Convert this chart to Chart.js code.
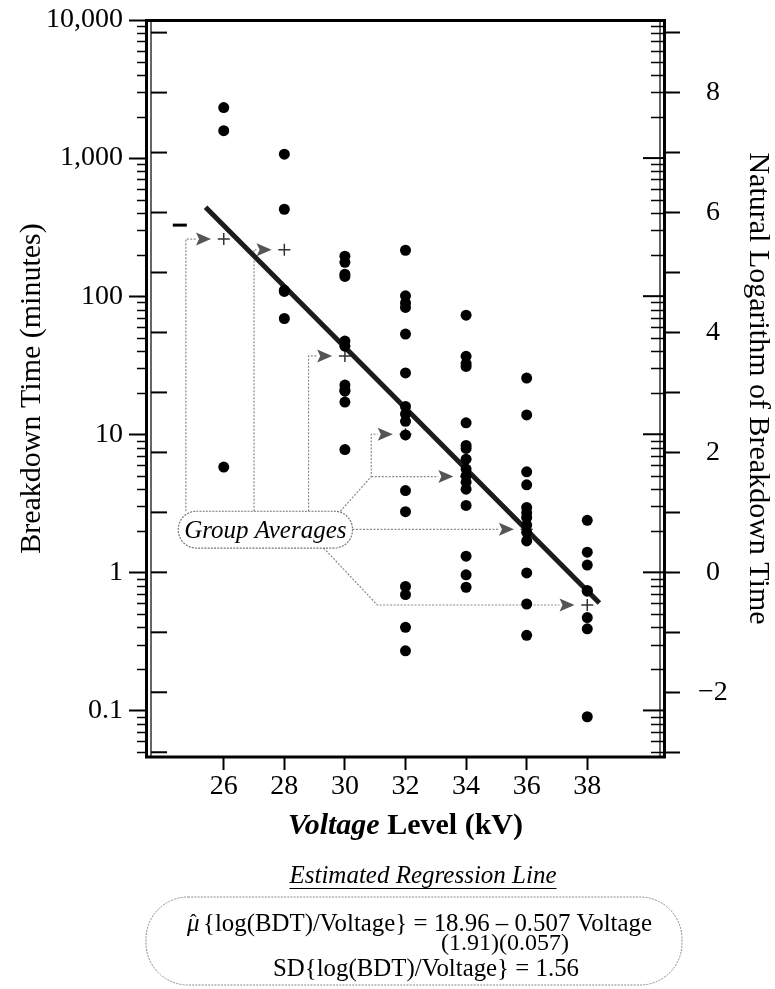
<!DOCTYPE html>
<html>
<head>
<meta charset="utf-8">
<script src="https://cdn.jsdelivr.net/npm/chart.js@4.4.1/dist/chart.umd.min.js"></script>
<style>
  html, body { margin: 0; padding: 0; background: #fff; }
  canvas { display: block; }
</style>
</head>
<body>
<canvas id="bdtChart" width="775" height="989"></canvas>
<script>
// voltage groups (kV) and breakdown times (minutes)
const voltages = [26, 28, 30, 32, 34, 36, 38];
const times26 = [2323.7, 1579.5, 5.79];
const times28 = [1067.6, 426.1, 110.3, 108.3, 68.9];
const times30 = [194.9, 175.9, 144.1, 139.1, 47.3, 43.4, 22.7, 21.0, 20.5, 17.1, 7.74];
const times32 = [215.1, 100.6, 89.3, 82.9, 53.2, 27.8, 15.9, 14.0, 12.4, 9.88, 3.91, 2.75, 0.79, 0.69, 0.40, 0.27];
const times34 = [72.9, 36.7, 32.5, 31.0, 12.1, 8.3, 7.9, 6.6, 5.6, 5.0, 4.5, 4.0, 3.05, 1.31, 0.96, 0.78];
const times36 = [25.5, 13.8, 5.35, 4.3, 2.95, 2.7, 2.5, 2.2, 1.95, 1.69, 0.99, 0.59, 0.35];
const times38 = [2.38, 1.40, 1.13, 0.74, 0.73, 0.47, 0.39, 0.09];
const groupTimes = [times26, times28, times30, times32, times34, times36, times38];

// group averages (the "+" marks)
const groupAverages = [259, 217, 36.9, 10.0, 4.94, 2.05, 0.58];

// estimated regression line, end points
const fitVoltage = [25.4, 38.4];
const fitTime = [440, 0.60];

// axes
const timeTicks = [0.1, 1, 10, 100, 1000, 10000];
const timeTickLabels = ['0.1', '1', '10', '100', '1,000', '10,000'];
const lnTicks = [-3, -2, -1, 0, 1, 2, 3, 4, 5, 6, 7, 8, 9];
const lnTickLabels = ['', '\u22122', '', '0', '', '2', '', '4', '', '6', '', '8', ''];
const voltageTicks = [26, 28, 30, 32, 34, 36, 38];

const yMin = 0.046, yMax = 10000;
const serif = '"Liberation Serif", "Times New Roman", serif';

const points = [];
groupTimes.forEach((arr, i) => arr.forEach(t => points.push({ x: voltages[i], y: t })));
const averages = voltages.map((v, i) => ({ x: v, y: groupAverages[i] }));
const fitLine = fitVoltage.map((v, i) => ({ x: v, y: fitTime[i] }));

// annotation: the "Group Averages" callout (data coordinates)
const gaBox = { x0: 24.5, x1: 30.25, yTop: 2.77, yBot: 1.5 };

// keep the plot frame where the reference has it
const noPad = s => { s.paddingTop = 0; s.paddingBottom = 0; s.paddingLeft = 0; s.paddingRight = 0; };

const notes = {
  id: 'notes',
  beforeDatasetsDraw(chart) {
    const ctx = chart.ctx;
    const xs = chart.scales.x, ys = chart.scales.y;
    const P = (x, y) => [xs.getPixelForValue(x), ys.getPixelForValue(y)];
    const avg = groupAverages;
    const tip = voltages.map(v => v - 0.42);
    const base = tip.map(t => t - 0.5);

    const paths = [
      [[24.75, gaBox.yTop], [24.75, avg[0]], [base[0], avg[0]]],
      [[27.0, gaBox.yTop], [27.0, avg[1]], [base[1], avg[1]]],
      [[28.8, gaBox.yTop], [28.8, avg[2]], [base[2], avg[2]]],
      [[29.85, gaBox.yTop], [30.87, avg[4]], [30.87, avg[3]], [base[3], avg[3]]],
      [[30.87, avg[4]], [base[4], avg[4]]],
      [[gaBox.x1, avg[5]], [base[5], avg[5]]],
      [[29.3, gaBox.yBot], [31.07, avg[6]], [base[6], avg[6]]]
    ];
    ctx.save();
    ctx.strokeStyle = '#8a8a8a';
    ctx.lineWidth = 1.2;
    ctx.setLineDash([2, 1.5]);
    paths.forEach(p => {
      ctx.beginPath();
      p.forEach((pt, k) => {
        const [a, b] = P(pt[0], pt[1]);
        if (k === 0) ctx.moveTo(a, b); else ctx.lineTo(a, b);
      });
      ctx.stroke();
    });
    ctx.setLineDash([]);

    // arrow heads
    ctx.fillStyle = '#555';
    voltages.forEach((v, i) => {
      const [tx, ty] = P(tip[i], avg[i]);
      ctx.beginPath();
      ctx.moveTo(tx, ty);
      ctx.lineTo(tx - 15, ty - 6.5);
      ctx.lineTo(tx - 12, ty);
      ctx.lineTo(tx - 15, ty + 6.5);
      ctx.closePath();
      ctx.fill();
    });

    // callout box
    const [bx0, byT] = P(gaBox.x0, gaBox.yTop);
    const [bx1, byB] = P(gaBox.x1, gaBox.yBot);
    ctx.beginPath();
    ctx.roundRect(bx0, byT, bx1 - bx0, byB - byT, 18);
    ctx.fillStyle = '#fff';
    ctx.fill();
    ctx.strokeStyle = '#777';
    ctx.lineWidth = 1.2;
    ctx.setLineDash([2, 1.2]);
    ctx.stroke();
    ctx.setLineDash([]);
    ctx.fillStyle = '#000';
    ctx.font = 'italic 25px ' + serif;
    ctx.textAlign = 'center';
    ctx.textBaseline = 'alphabetic';
    ctx.fillText('Group Averages', (bx0 + bx1) / 2, (byT + byB) / 2 + 8);
    ctx.restore();
  },
  afterDraw(chart) {
    const ctx = chart.ctx;
    const { left, right, top, bottom } = chart.chartArea;
    const ys = chart.scales.y, y2 = chart.scales.y2, xs = chart.scales.x;
    ctx.save();
    ctx.strokeStyle = '#000';

    // minor log ticks: outward on the left, inward on the right
    ctx.lineWidth = 1.5;
    for (let k = -2; k <= 3; k++) {
      for (let m = 2; m <= 9; m++) {
        const v = m * Math.pow(10, k);
        if (v < yMin || v > yMax) continue;
        const y = Math.round(ys.getPixelForValue(v)) + 0.5;
        ctx.beginPath();
        ctx.moveTo(left - 11, y); ctx.lineTo(left, y);
        ctx.moveTo(right - 12, y); ctx.lineTo(right, y);
        ctx.stroke();
      }
    }
    ctx.lineWidth = 2;
    timeTicks.forEach(v => {
      const y = ys.getPixelForValue(v);
      ctx.beginPath();
      ctx.moveTo(right - 20, y); ctx.lineTo(right, y);
      ctx.stroke();
    });
    // ln ticks mirrored inward on the left
    lnTicks.forEach(n => {
      const y = y2.getPixelForValue(n);
      ctx.beginPath();
      ctx.moveTo(left + 3, y); ctx.lineTo(left + 19, y);
      ctx.stroke();
    });

    // frame
    ctx.lineWidth = 3;
    ctx.beginPath();
    ctx.moveTo(left - 3, top + 0.5); ctx.lineTo(right + 3, top + 0.5);
    ctx.moveTo(left - 3, bottom); ctx.lineTo(right + 3, bottom);
    ctx.moveTo(left - 1.5, top); ctx.lineTo(left - 1.5, bottom);
    ctx.moveTo(right + 1.5, top); ctx.lineTo(right + 1.5, bottom);
    ctx.stroke();
    ctx.lineWidth = 1.2;
    ctx.beginPath();
    ctx.moveTo(left + 3, top); ctx.lineTo(left + 3, bottom);
    ctx.moveTo(right - 3, top); ctx.lineTo(right - 3, bottom);
    ctx.stroke();

    // short dash at the left of the first group
    const dx = xs.getPixelForValue(24.55), dy = ys.getPixelForValue(327);
    ctx.lineWidth = 3;
    ctx.beginPath();
    ctx.moveTo(dx - 7, dy); ctx.lineTo(dx + 7, dy);
    ctx.stroke();

    // x axis title with mixed styles
    ctx.fillStyle = '#000';
    ctx.textBaseline = 'alphabetic';
    ctx.textAlign = 'left';
    const t1 = 'Voltage', t2 = ' Level (kV)';
    ctx.font = 'italic bold 30px ' + serif;
    const w1 = ctx.measureText(t1).width;
    ctx.font = 'bold 30px ' + serif;
    const w2 = ctx.measureText(t2).width;
    let sx = (left + right) / 2 - (w1 + w2) / 2;
    ctx.font = 'italic bold 30px ' + serif;
    ctx.fillText(t1, sx, 834);
    ctx.font = 'bold 30px ' + serif;
    ctx.fillText(t2, sx + w1, 834);

    // regression summary
    ctx.textAlign = 'center';
    ctx.font = 'italic 25px ' + serif;
    const cap = 'Estimated Regression Line';
    const cw = ctx.measureText(cap).width;
    ctx.fillText(cap, 423, 883);
    ctx.lineWidth = 1.2;
    ctx.beginPath();
    ctx.moveTo(423 - cw / 2, 888.5); ctx.lineTo(423 + cw / 2, 888.5);
    ctx.stroke();

    ctx.beginPath();
    ctx.roundRect(146, 897, 536, 88, 42);
    ctx.strokeStyle = '#888';
    ctx.lineWidth = 1;
    ctx.setLineDash([2, 1.2]);
    ctx.stroke();
    ctx.setLineDash([]);

    ctx.textAlign = 'left';
    ctx.font = 'italic 25px ' + serif;
    ctx.fillText('\u03bc', 187, 931);
    ctx.font = '20px ' + serif;
    ctx.fillText('\u02c6', 190, 929);
    ctx.font = '25px ' + serif;
    ctx.fillText('{log(BDT)/Voltage} = 18.96 \u2013 0.507 Voltage', 203, 931, 449);
    ctx.textAlign = 'center';
    ctx.font = '24px ' + serif;
    ctx.fillText('(1.91)(0.057)', 505, 950, 138);
    ctx.font = '25px ' + serif;
    ctx.fillText('SD{log(BDT)/Voltage} = 1.56', 426, 976, 306);
    ctx.restore();
  }
};

new Chart(document.getElementById('bdtChart'), {
  type: 'scatter',
  data: {
    datasets: [
      {
        label: 'Breakdown time',
        data: points,
        pointRadius: 5.5,
        pointHoverRadius: 5.5,
        backgroundColor: '#000',
        borderWidth: 0
      },
      {
        type: 'line',
        label: 'Estimated regression line',
        data: fitLine,
        borderColor: '#1c1c1c',
        borderWidth: 5,
        pointRadius: 0,
        fill: false
      },
      {
        label: 'Group averages',
        data: averages,
        pointStyle: 'cross',
        pointRadius: 6,
        borderColor: '#333',
        borderWidth: 1.5,
        backgroundColor: '#333'
      }
    ]
  },
  options: {
    responsive: false,
    animation: false,
    layout: { padding: { top: 20, left: 0, right: 0, bottom: 0 } },
    plugins: { legend: { display: false }, tooltip: { enabled: false } },
    scales: {
      x: {
        type: 'linear',
        min: 23.5,
        max: 40.5,
        afterFit: s => { s.height = 232; noPad(s); },
        afterBuildTicks: s => { s.ticks = voltageTicks.map(v => ({ value: v })); },
        ticks: { font: { family: serif, size: 28 }, color: '#000', padding: 0, maxRotation: 0 },
        grid: { drawOnChartArea: false, drawTicks: true, tickLength: 13, tickWidth: 2, color: '#000' },
        border: { display: false }
      },
      y: {
        type: 'logarithmic',
        position: 'left',
        min: yMin,
        max: yMax,
        afterFit: s => { s.width = 148; noPad(s); },
        afterBuildTicks: s => { s.ticks = timeTicks.map(v => ({ value: v, major: true })); },
        ticks: {
          font: { family: serif, size: 28 },
          color: '#000',
          padding: 6,
          autoSkip: false,
          callback: v => timeTickLabels[timeTicks.indexOf(v)]
        },
        grid: { drawOnChartArea: false, drawTicks: true, tickLength: 19, tickWidth: 2, color: '#000' },
        border: { display: false },
        title: {
          display: true,
          text: 'Breakdown Time (minutes)',
          font: { family: serif, size: 30, lineHeight: 1 },
          color: '#000',
          padding: { top: 17, bottom: 0 }
        }
      },
      y2: {
        type: 'linear',
        position: 'right',
        min: Math.log(yMin),
        max: Math.log(yMax),
        afterFit: s => { s.width = 112; noPad(s); },
        afterBuildTicks: s => { s.ticks = lnTicks.map(v => ({ value: v })); },
        ticks: {
          font: { family: serif, size: 28 },
          color: '#000',
          padding: 18,
          crossAlign: 'center',
          autoSkip: false,
          callback: v => lnTickLabels[lnTicks.indexOf(v)]
        },
        grid: { drawOnChartArea: false, drawTicks: true, tickLength: 17, tickWidth: 2, color: '#000' },
        border: { display: false },
        title: {
          display: true,
          text: 'Natural Logarithm of Breakdown Time',
          font: { family: serif, size: 30, lineHeight: 1 },
          color: '#000',
          padding: { top: 2, bottom: 0 }
        }
      }
    }
  },
  plugins: [notes]
});
</script>
</body>
</html>
